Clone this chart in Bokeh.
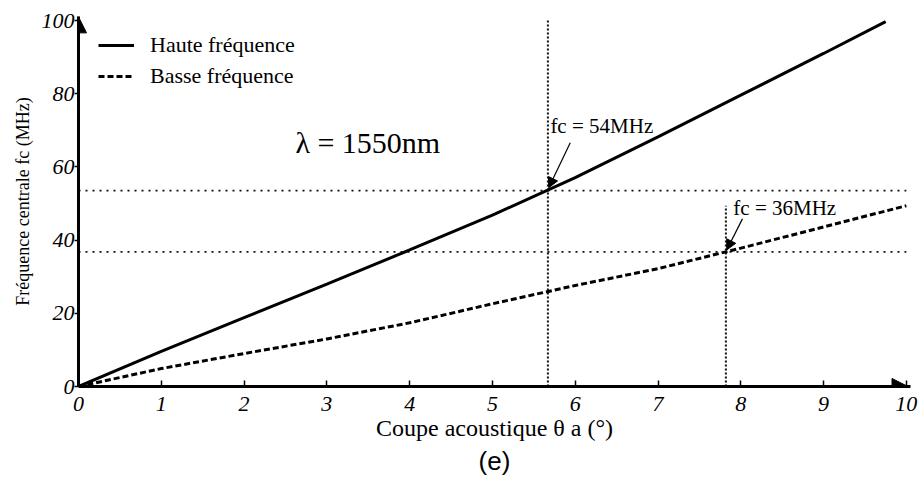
from bokeh.plotting import figure
from bokeh.models import (Range1d, FixedTicker, Arrow, NormalHead, Label, Legend,
                          LegendItem, Title)
from bokeh.embed import file_html
from bokeh.resources import INLINE

# ---- data ----
x_haute = [0, 1, 2, 3, 4, 5, 6, 7, 8, 9, 9.75]
y_haute = [0, 9.6, 18.8, 28.0, 37.3, 46.8, 57.1, 68.2, 79.6, 91.0, 99.7]
x_basse = [0, 1, 2, 3, 4, 5, 6, 7, 8, 9, 10]
y_basse = [0, 4.9, 9.0, 13.0, 17.4, 22.6, 27.6, 32.2, 37.8, 43.6, 49.4]

x_ticks = [0, 1, 2, 3, 4, 5, 6, 7, 8, 9, 10]
y_ticks = [0, 20, 40, 60, 80, 100]

fc_high = 53.5     # horizontal dotted level (fc = 54 MHz)
fc_low = 36.8      # horizontal dotted level (fc = 36 MHz)
theta_high = 5.67  # vertical dotted at fc = 54 MHz
theta_low = 7.82   # vertical dotted at fc = 36 MHz
v_high_top = 100
v_low_top = 49.4

SERIF = "Liberation Serif"
INK = "#000000"

p = figure(width=921, height=483, output_backend="svg", toolbar_location=None,
           x_range=Range1d(0, 10.05), y_range=Range1d(0, 101.1),
           min_border_left=78, min_border_right=11, min_border_top=16,
           min_border_bottom=97)
p.grid.visible = False
p.outline_line_color = None
p.background_fill_color = "white"

# axes
for ax in (p.xaxis[0], p.yaxis[0]):
    ax.axis_line_width = 3
    ax.axis_line_color = INK
    ax.major_tick_line_width = 1.5
    ax.major_tick_line_color = INK
    ax.minor_tick_line_color = None
    ax.major_label_text_font = SERIF
    ax.major_label_text_font_style = "italic"
    ax.major_label_text_font_size = "22px"
    ax.major_label_text_color = INK
    ax.axis_label_text_font = SERIF
    ax.axis_label_text_font_style = "normal"
    ax.axis_label_text_color = INK
p.xaxis.axis_label_text_font_size = "24px"
p.yaxis.axis_label_text_font_size = "18px"
p.xaxis.ticker = FixedTicker(ticks=x_ticks)
p.yaxis.ticker = FixedTicker(ticks=y_ticks)
p.xaxis.major_tick_in = 6
p.xaxis.major_tick_out = 0
p.yaxis.major_tick_in = 0
p.yaxis.major_tick_out = 4
p.xaxis.major_label_standoff = 10
p.yaxis.major_label_standoff = 0
p.xaxis.axis_label = "Coupe acoustique θ a (°)"
p.yaxis.axis_label = "Fréquence centrale fc (MHz)"
p.xaxis.axis_label_standoff = 1
p.yaxis.axis_label_standoff = 6

# dotted reference lines
p.line([0, 10], [fc_high, fc_high], line_color="#111111", line_width=1.8, line_dash="2 5")
p.line([0, 10], [fc_low, fc_low], line_color="#111111", line_width=1.8, line_dash="2 5")
p.line([theta_high, theta_high], [0, v_high_top], line_color="#111111", line_width=2, line_dash="2 2")
p.line([theta_low, theta_low], [0, v_low_top], line_color="#111111", line_width=2, line_dash="2 2")

# curves
r_h = p.line(x_haute, y_haute, line_color=INK, line_width=3)
r_b = p.line(x_basse, y_basse, line_color=INK, line_width=3, line_dash="6 3")

legend = Legend(items=[LegendItem(label="Haute fréquence", renderers=[r_h]),
                       LegendItem(label="Basse fréquence", renderers=[r_b])],
                location=(20, 297), border_line_color=None,
                background_fill_alpha=0, margin=0, padding=4,
                glyph_width=36, glyph_height=20, label_height=20,
                spacing=5, label_standoff=16, label_text_color=INK,
                label_text_font=SERIF, label_text_font_size="22px")
p.add_layout(legend)

# axis arrows
p.add_layout(Arrow(end=NormalHead(size=16, fill_color=INK, line_color=INK),
                   x_start=0, y_start=95, x_end=0, y_end=101.0,
                   line_width=3, line_color=INK))
p.add_layout(Arrow(end=NormalHead(size=16, fill_color=INK, line_color=INK),
                   x_start=9.6, y_start=0, x_end=10.02, y_end=0,
                   line_width=3, line_color=INK))

# annotation arrows
p.add_layout(Arrow(end=NormalHead(size=10, fill_color=INK, line_color=INK),
                   x_start=5.94, y_start=66.6, x_end=theta_high + 0.01, y_end=fc_high + 0.8,
                   line_width=1.2, line_color=INK))
p.add_layout(Arrow(end=NormalHead(size=10, fill_color=INK, line_color=INK),
                   x_start=8.02, y_start=45.8, x_end=theta_low + 0.01, y_end=fc_low + 0.5,
                   line_width=1.2, line_color=INK))

# texts
p.add_layout(Label(x=2.62, y=66.6, text="λ = 1550nm", text_font=SERIF, text_color=INK,
                   text_font_size="30px", text_baseline="middle"))
p.add_layout(Label(x=5.70, y=71.2, text="fc = 54MHz", text_font=SERIF, text_color=INK,
                   text_font_size="21px", text_baseline="middle"))
p.add_layout(Label(x=7.91, y=48.8, text="fc = 36MHz", text_font=SERIF, text_color=INK,
                   text_font_size="21px", text_baseline="middle"))

p.add_layout(Title(text="(e)", align="center", text_font="Liberation Sans",
                   text_font_size="26px", text_font_style="normal", text_color=INK,
                   standoff=0), "below")

open("out.html", "w").write(file_html(p, INLINE))
